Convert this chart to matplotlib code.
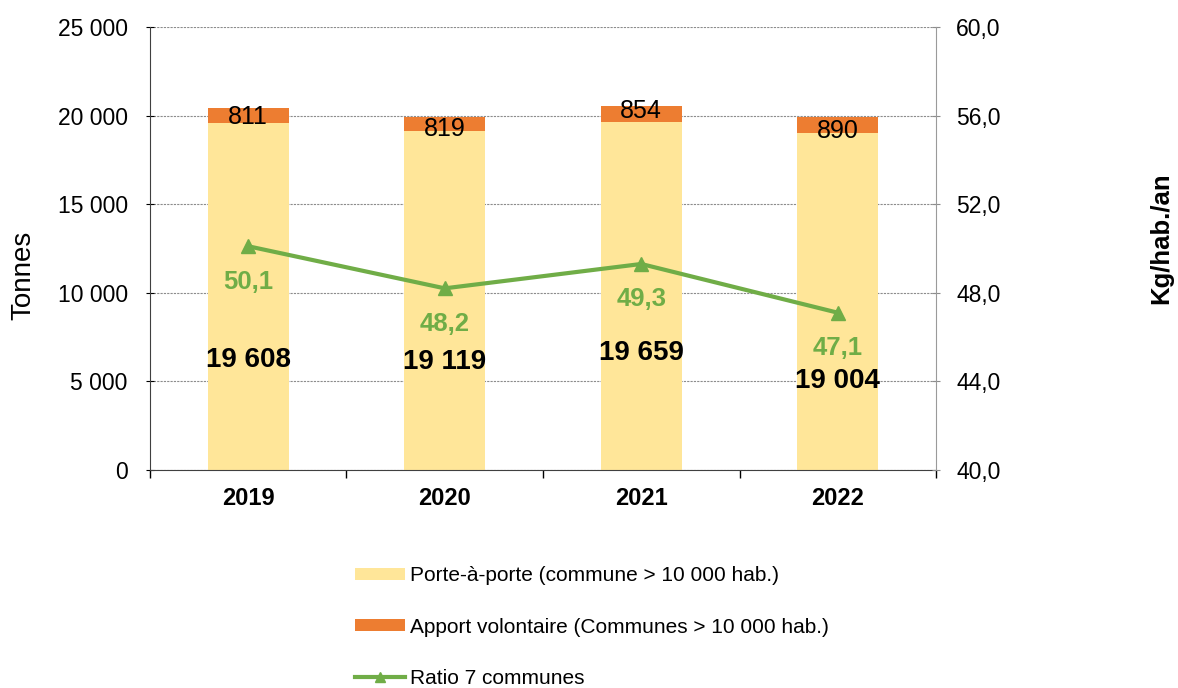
import matplotlib.pyplot as plt
import numpy as np

plt.rcParams['font.family'] = ['Liberation Sans', 'DejaVu Sans']

# Données
annees = ['2019', '2020', '2021', '2022']
porte_a_porte = [19608, 19119, 19659, 19004]
apport_volontaire = [811, 819, 854, 890]
ratio = [50.1, 48.2, 49.3, 47.1]

# positions des étiquettes (placées à la main dans le graphique d'origine)
pos_lab_pap = [6200, 6100, 6600, 5000]
pos_lab_av = [19900, 19250, 20250, 19150]
decal_ratio = 1.6

JAUNE = '#FFE699'
ORANGE = '#ED7D31'
VERT = '#70AD47'


def fmt_milliers(v):
    return f"{int(round(v)):,}".replace(',', ' ')


fig = plt.figure(figsize=(11.78, 6.88), dpi=100)
ax = fig.add_axes([0.1273, 0.3169, 0.6673, 0.6439])
x = np.arange(len(annees))
larg = 0.41

b1 = ax.bar(x, porte_a_porte, larg, color=JAUNE, zorder=2,
            label='Porte-à-porte (commune > 10 000 hab.)')
b2 = ax.bar(x, apport_volontaire, larg, bottom=porte_a_porte, color=ORANGE, zorder=2,
            label='Apport volontaire (Communes > 10 000 hab.)')

for i in range(len(annees)):
    ax.text(x[i], pos_lab_pap[i], fmt_milliers(porte_a_porte[i]), ha='center', va='center',
            fontsize=20, fontweight='bold', color='black', zorder=5)
    ax.text(x[i], pos_lab_av[i], str(apport_volontaire[i]), ha='center', va='center',
            fontsize=18, color='black', zorder=5)

ax.set_xlim(-0.5, len(annees) - 0.5)
ax.set_ylim(0, 25000)
ax.set_yticks(np.arange(0, 25001, 5000))
ax.set_yticklabels([fmt_milliers(v) for v in np.arange(0, 25001, 5000)], fontsize=16.5)
ax.yaxis.grid(True, linestyle=(0, (2, 1)), color='#8c8c8c', linewidth=0.8, zorder=0)
ax.set_axisbelow(True)

ax.set_xticks(x)
ax.set_xticklabels(annees, fontsize=17, fontweight='bold')
ax.tick_params(axis='x', length=0, pad=12)
ax.set_xticks(np.arange(-0.5, len(annees) + 0.5, 1), minor=True)
ax.tick_params(axis='x', which='minor', length=6, width=1, direction='out')
ax.tick_params(axis='y', length=6, direction='inout', pad=13)

ax.spines['top'].set_visible(False)
ax.spines['right'].set_visible(False)
ax.spines['left'].set_color('#404040')
ax.spines['bottom'].set_color('#404040')

ax2 = ax.twinx()
ln, = ax2.plot(x, ratio, color=VERT, linewidth=3, marker='^', markersize=10,
               label='Ratio 7 communes', zorder=4)
for i in range(len(annees)):
    ax2.text(x[i], ratio[i] - decal_ratio, f"{ratio[i]:.1f}".replace('.', ','),
             ha='center', va='center', fontsize=18.5, fontweight='bold', color=VERT)
ax2.set_ylim(40, 60)
ax2.set_yticks(np.arange(40, 60.1, 4))
ax2.set_yticklabels([f"{v:.1f}".replace('.', ',') for v in np.arange(40, 60.1, 4)], fontsize=16.5)
ax2.tick_params(axis='y', length=6, direction='inout', pad=11.5, color='#8c8c8c')
for s in ['top', 'left', 'bottom']:
    ax2.spines[s].set_visible(False)
ax2.spines['right'].set_color('#9a9a9a')

# titres des axes
fig.text(0.020, 0.600, 'Tonnes', rotation=90, ha='center', va='center', fontsize=20)
fig.text(0.986, 0.654, 'Kg/hab./an', rotation=90, ha='center', va='center',
         fontsize=18.5, fontweight='bold')

fig.legend(handles=[b1, b2, ln], loc='upper left', bbox_to_anchor=(0.2925, 0.192),
           frameon=False, fontsize=15, handlelength=2.4, handletextpad=0.25,
           labelspacing=1.55, handleheight=0.5, borderpad=0, markerscale=0.65)

plt.savefig('out.png', dpi=100)
